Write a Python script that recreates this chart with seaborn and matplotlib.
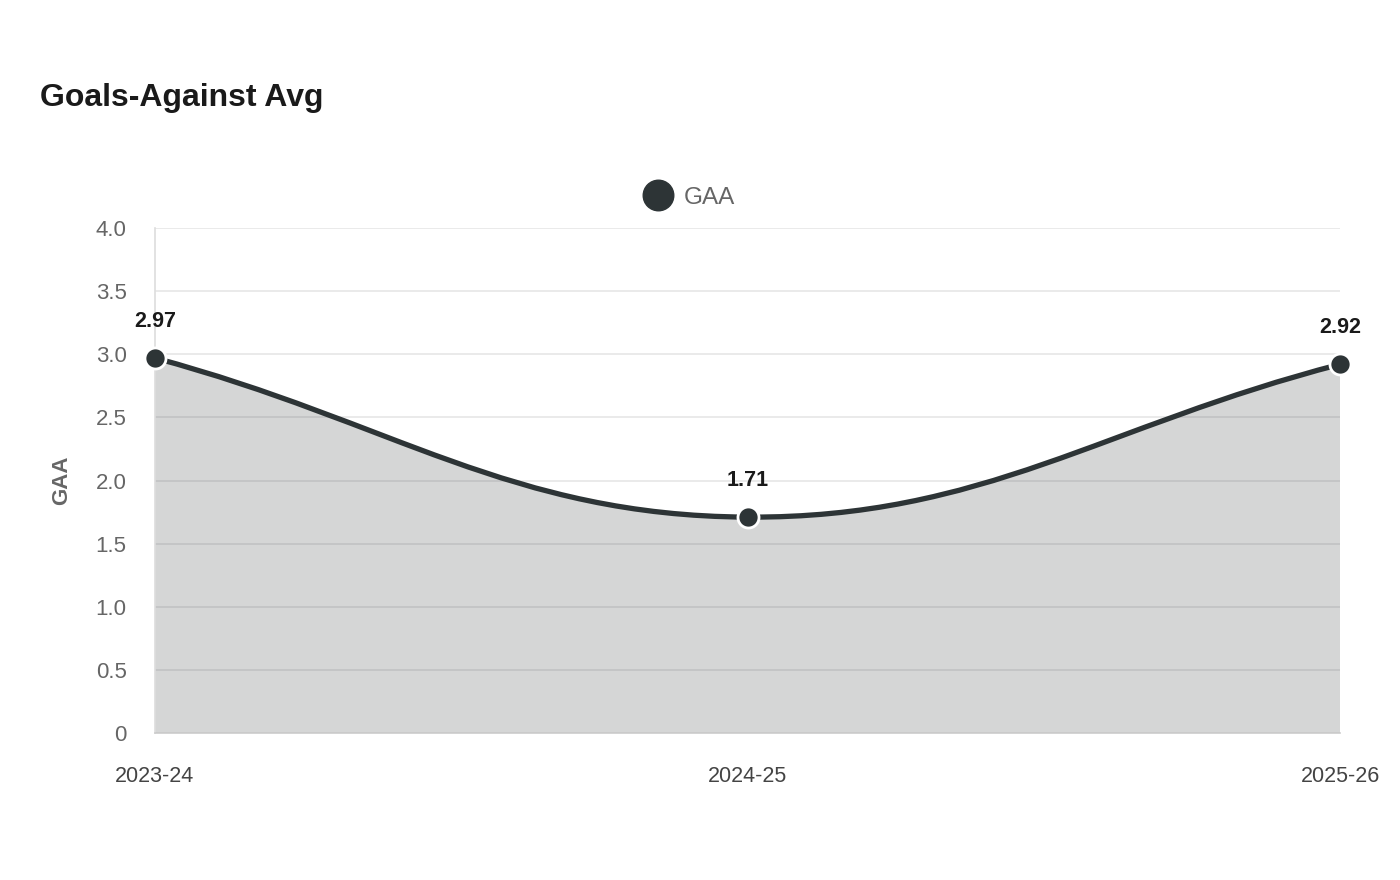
import numpy as np
import matplotlib
matplotlib.use("Agg")
import matplotlib.pyplot as plt
from matplotlib.path import Path
from matplotlib.patches import PathPatch
from matplotlib.lines import Line2D
import seaborn as sns

# data
seasons = ["2023-24", "2024-25", "2025-26"]
gaa = [2.97, 1.71, 2.92]
y_ticks = [0, 0.5, 1.0, 1.5, 2.0, 2.5, 3.0, 3.5, 4.0]
y_tick_labels = ["0", "0.5", "1.0", "1.5", "2.0", "2.5", "3.0", "3.5", "4.0"]

line_color = "#2d3436"
text_gray = "#666666"

sns.set_theme(style="whitegrid")
plt.rcParams["font.family"] = ["Liberation Sans", "DejaVu Sans"]

fig = plt.figure(figsize=(14, 8.8), dpi=100)
ax = fig.add_axes([155 / 1400, 1 - 733 / 880, (1340 - 155) / 1400, (733 - 228) / 880])

x = np.arange(len(seasons), dtype=float)
y = np.array(gaa)

# smooth curve like chart.js (tension 0.4), distances in pixel scale
sx, sy = 592.5, 126.25
t = 0.4
cps = []
for i in range(len(x)):
    p = np.array([x[i], y[i]])
    prev = np.array([x[i - 1], y[i - 1]]) if i > 0 else p
    nxt = np.array([x[i + 1], y[i + 1]]) if i < len(x) - 1 else p
    d01 = np.hypot((p[0] - prev[0]) * sx, (p[1] - prev[1]) * sy)
    d12 = np.hypot((nxt[0] - p[0]) * sx, (nxt[1] - p[1]) * sy)
    tot = d01 + d12
    s01 = d01 / tot if tot else 0
    s12 = d12 / tot if tot else 0
    cp_prev = p - t * s01 * (nxt - prev)
    cp_next = p + t * s12 * (nxt - prev)
    cps.append((cp_prev, cp_next))

verts = [(x[0], y[0])]
codes = [Path.MOVETO]
for i in range(len(x) - 1):
    verts += [tuple(cps[i][1]), tuple(cps[i + 1][0]), (x[i + 1], y[i + 1])]
    codes += [Path.CURVE4] * 3

curve = Path(verts, codes)
fill_verts = verts + [(x[-1], 0), (x[0], 0), (x[0], y[0])]
fill_codes = codes + [Path.LINETO, Path.LINETO, Path.CLOSEPOLY]
ax.add_patch(PathPatch(Path(fill_verts, fill_codes), facecolor=line_color, alpha=0.2, edgecolor="none", zorder=2))
ax.add_patch(PathPatch(curve, facecolor="none", edgecolor=line_color, lw=3.8, zorder=3, capstyle="round"))

sns.scatterplot(x=x, y=y, ax=ax, s=230, color=line_color, edgecolor="white", linewidth=2, zorder=4, clip_on=False, legend=False)

for xi, yi in zip(x, y):
    ax.annotate(f"{yi:.2f}", (xi, yi), xytext=(0, 19), textcoords="offset points", ha="center", va="bottom",
                fontsize=15.5, fontweight="bold", color="#1a1a1a")

ax.set_xlim(0, 2)
ax.set_ylim(0, 4)
ax.set_xticks(x)
ax.set_xticklabels(seasons, fontsize=15.5, color="#444444")
ax.set_yticks(y_ticks)
ax.set_yticklabels(y_tick_labels, fontsize=16, color=text_gray)
ax.tick_params(axis="x", length=0, pad=24)
ax.tick_params(axis="y", length=10, color="#e6e6e6", pad=10.5)
ax.grid(axis="y", color="#e6e6e6", lw=1.2)
ax.grid(axis="x", visible=False)
for s in ["top", "right"]:
    ax.spines[s].set_visible(False)
ax.spines["left"].set_color("#dddddd")
ax.spines["bottom"].set_color("#cccccc")
ax.spines["left"].set_linewidth(1.2)
ax.spines["bottom"].set_linewidth(1.2)
ax.set_facecolor("white")
ax.set_ylabel("GAA", fontsize=16, fontweight="bold", color=text_gray, labelpad=17)

fig.text(40 / 1400, 1 - 98 / 880, "Goals-Against Avg", fontsize=23, fontweight="bold", color="#1a1a1a", va="center")

handle = Line2D([], [], marker="o", color=line_color, linestyle="none", markersize=22)
fig.legend([handle], ["GAA"], loc="center", bbox_to_anchor=(684 / 1400, 1 - 198 / 880), frameon=False,
           fontsize=17.5, labelcolor=text_gray, handletextpad=0.05, borderpad=0)

fig.savefig("out.png", dpi=100, facecolor="white")
